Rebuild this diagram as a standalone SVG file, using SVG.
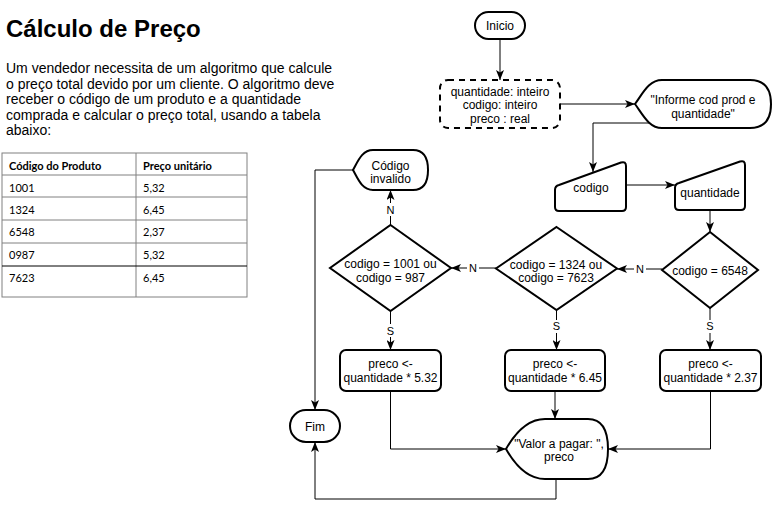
<svg xmlns="http://www.w3.org/2000/svg" width="772" height="508" viewBox="0 0 772 508">
<defs>
<style>
text{font-family:"Liberation Sans",Arial,Helvetica,sans-serif;fill:#000}
.t{font-size:12px;text-anchor:middle}
.lb{font-size:11px;text-anchor:middle}
.shape{fill:#fff;stroke:#000;stroke-width:2}
.conn path{fill:none;stroke:#000;stroke-width:1}
.arr{marker-end:url(#ah)}
.tbl text{font-family:Lato,"Liberation Sans",sans-serif;font-size:11px}
.tbl line,.tbl rect{stroke:#808080;stroke-width:1;fill:none}
.lbg{fill:#fff;stroke:none}
</style>
<marker id="ah" viewBox="0 0 10 8" refX="10" refY="4" markerWidth="10" markerHeight="8" orient="auto" markerUnits="userSpaceOnUse">
<path d="M0,0 L10,4 L0,8 L2.5,4 Z" fill="#000"/>
</marker>
</defs>
<rect width="772" height="508" fill="#fff"/>

<g id="title">
<text x="6" y="37" style="font-size:24px;font-weight:bold">Cálculo de Preço</text>
</g>
<g id="description" style="font-size:14px">
<text x="6" y="73">Um vendedor necessita de um algoritmo que calcule</text>
<text x="6" y="88.5">o preço total devido por um cliente. O algoritmo deve</text>
<text x="6" y="104">receber o código de um produto e a quantidade</text>
<text x="6" y="119.5">comprada e calcular o preço total, usando a tabela</text>
<text x="6" y="135">abaixo:</text>
</g>

<g id="table" class="tbl">
<rect x="2" y="153" width="245" height="144"/>
<line x1="136" y1="153" x2="136" y2="297"/>
<line x1="2" y1="175" x2="247" y2="175"/>
<line x1="2" y1="197" x2="247" y2="197"/>
<line x1="2" y1="220" x2="247" y2="220"/>
<line x1="2" y1="243" x2="247" y2="243"/>
<line x1="2" y1="266" x2="247" y2="266" style="stroke:#000"/>
<text x="9" y="169.5" font-weight="bold">Código do Produto</text>
<text x="143" y="169.5" font-weight="bold">Preço unitário</text>
<text x="9" y="191.5">1001</text><text x="143" y="191.5">5,32</text>
<text x="9" y="213.5">1324</text><text x="143" y="213.5">6,45</text>
<text x="9" y="236">6548</text><text x="143" y="236">2,37</text>
<text x="9" y="258.5">0987</text><text x="143" y="258.5">5,32</text>
<text x="9" y="281.5">7623</text><text x="143" y="281.5">6,45</text>
</g>

<g id="connectors" class="conn">
<path class="arr" d="M500,39 V80"/>
<path class="arr" d="M560,104 H635"/>
<path class="arr" d="M653,123 H593 V172"/>
<path class="arr" d="M626,185 H675"/>
<path class="arr" d="M710,210 V232"/>
<path class="arr" d="M662,269 H617"/>
<path class="arr" d="M496,268 H451"/>
<path class="arr" d="M390.5,225 V190"/>
<path class="arr" d="M353,170 H315 V410"/>
<path class="arr" d="M390.5,311 V350"/>
<path class="arr" d="M556.5,310 V350"/>
<path class="arr" d="M710,308 V350"/>
<path class="arr" d="M390.5,391 V449 H506"/>
<path class="arr" d="M555,391 V419"/>
<path class="arr" d="M710.5,391 V449 H608"/>
<path class="arr" d="M556,479 V499 H315 V442"/>
<rect class="lbg" x="634" y="262" width="12" height="13"/>
<text class="lb" x="640" y="273">N</text>
<rect class="lbg" x="467" y="261" width="12" height="13"/>
<text class="lb" x="473" y="272">N</text>
<rect class="lbg" x="384" y="203" width="12" height="13"/>
<text class="lb" x="390.5" y="214">N</text>
<rect class="lbg" x="385" y="324" width="11" height="13"/>
<text class="lb" x="390.5" y="335">S</text>
<rect class="lbg" x="551" y="320" width="11" height="13"/>
<text class="lb" x="556.5" y="330">S</text>
<rect class="lbg" x="705" y="320" width="11" height="13"/>
<text class="lb" x="710" y="330">S</text>
</g>

<g id="inicio">
<rect class="shape" x="475" y="12" width="50" height="27" rx="13.5"/>
<text class="t" x="500" y="30">Inicio</text>
</g>

<g id="declaracoes">
<rect x="440" y="80" width="120" height="48" rx="8" style="fill:#fff;stroke:#000;stroke-width:2;stroke-dasharray:6 5"/>
<text class="t" x="500" y="95.5">quantidade: inteiro</text>
<text class="t" x="500" y="109">codigo: inteiro</text>
<text class="t" x="500" y="122.5">preco : real</text>
</g>

<g id="informe">
<path class="shape" d="M635,104 C643,93 649,80 662,80 L750,80 Q771,80 771,104 Q771,128 750,128 L662,128 C649,128 643,115 635,104 Z"/>
<text class="t" x="703" y="104">"Informe cod prod e</text>
<text class="t" x="703" y="118">quantidade"</text>
</g>

<g id="ler-codigo">
<path class="shape" d="M559,185 L621,162.5 Q626,161 626,166 L626,207 Q626,211 622,211 L559,211 Q555,211 555,207 L555,190 Q555,186 559,185 Z"/>
<text class="t" x="591" y="192">codigo</text>
</g>

<g id="ler-quantidade">
<path class="shape" d="M679,183 L740,161.5 Q745,160 745,165 L745,206 Q745,210 741,210 L679,210 Q675,210 675,206 L675,188 Q675,184 679,183 Z"/>
<text class="t" x="710" y="197">quantidade</text>
</g>

<g id="dec-6548">
<path class="shape" d="M710,232 L758,270 L710,308 L662,270 Z"/>
<text class="t" x="710" y="275">codigo = 6548</text>
</g>

<g id="dec-1324">
<path class="shape" d="M556.5,227 L617,268.5 L556.5,310 L496,268.5 Z"/>
<text class="t" x="556" y="268.5">codigo = 1324 ou</text>
<text class="t" x="556" y="282">codigo = 7623</text>
</g>

<g id="dec-1001">
<path class="shape" d="M390.5,225 L451,268 L390.5,311 L330,268 Z"/>
<text class="t" x="390.5" y="267.5">codigo = 1001 ou</text>
<text class="t" x="390.5" y="281.5">codigo = 987</text>
</g>

<g id="codigo-invalido">
<path class="shape" d="M353,170 C358,161 362,150 373,150 L413,150 Q428,150 428,170 Q428,190 413,190 L373,190 C362,190 358,179 353,170 Z"/>
<text class="t" x="390.5" y="169.5">Código</text>
<text class="t" x="390.5" y="182.5">invalido</text>
</g>

<g id="preco-532">
<rect class="shape" x="340" y="350" width="101" height="41" rx="6"/>
<text class="t" x="390.5" y="368">preco &lt;-</text>
<text class="t" x="390.5" y="381.5">quantidade * 5.32</text>
</g>

<g id="preco-645">
<rect class="shape" x="505" y="350" width="100" height="41" rx="6"/>
<text class="t" x="555" y="368">preco &lt;-</text>
<text class="t" x="555" y="381.5">quantidade * 6.45</text>
</g>

<g id="preco-237">
<rect class="shape" x="660" y="350" width="101" height="41" rx="6"/>
<text class="t" x="710.5" y="368">preco &lt;-</text>
<text class="t" x="710.5" y="381.5">quantidade * 2.37</text>
</g>

<g id="valor-pagar">
<path class="shape" d="M506,449 C514,435 527,419 545,419 L588,419 Q608,419 608,449 Q608,479 588,479 L545,479 C527,479 514,463 506,449 Z"/>
<text class="t" x="559" y="447.5">"Valor a pagar: ",</text>
<text class="t" x="559" y="461">preco</text>
</g>

<g id="fim">
<rect class="shape" x="290" y="410" width="50" height="32" rx="16"/>
<text class="t" x="315" y="430.5">Fim</text>
</g>
</svg>
